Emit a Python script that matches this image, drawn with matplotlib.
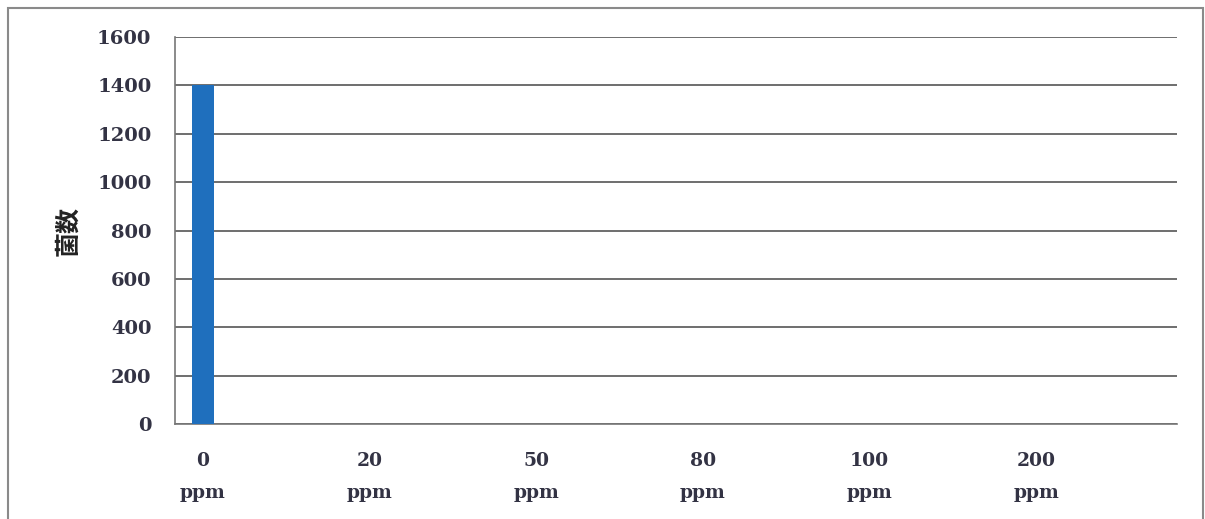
import matplotlib.pyplot as plt
from matplotlib.patches import Rectangle

# bacteria count per concentration
concentrations = ['0\nppm', '20\nppm', '50\nppm', '80\nppm', '100\nppm', '200\nppm']
counts = [1400, 0, 0, 0, 0, 0]
y_ticks = [0, 200, 400, 600, 800, 1000, 1200, 1400, 1600]

fig = plt.figure(figsize=(12.05, 5.19), dpi=100)
ax = fig.add_axes([175 / 1205, 1 - 424 / 519, 1002 / 1205, 387 / 519])

# frame around the whole chart
fig.patches.append(Rectangle((8 / 1205, -0.01), 1195 / 1205, 1 - 8 / 519 + 0.01,
                             transform=fig.transFigure, fill=False,
                             edgecolor='#8a8a8a', linewidth=1.5))

x = range(len(concentrations))
ax.bar(x, counts, width=0.132, color='#1f6fbd', zorder=3)

ax.set_ylim(0, 1600)
ax.set_xlim(-0.168, 5.846)
ax.set_yticks(y_ticks)
ax.yaxis.grid(True, color='#555555', linewidth=1.2, zorder=0)
ax.set_axisbelow(True)

for side in ['top', 'right']:
    ax.spines[side].set_visible(False)
ax.spines['left'].set_color('#777777')
ax.spines['bottom'].set_color('#777777')
ax.spines['left'].set_linewidth(1.2)
ax.spines['bottom'].set_linewidth(1.2)

ax.tick_params(axis='both', length=0)
ax.tick_params(axis='y', pad=17)
ax.tick_params(axis='x', pad=20)
ax.set_xticks(list(x))
ax.set_xticklabels(concentrations, family='DejaVu Serif', fontweight='bold',
                   fontsize=13.5, color='#333344', linespacing=2.0)
ax.set_yticklabels([str(v) for v in y_ticks], family='DejaVu Serif',
                   fontweight='bold', fontsize=14, color='#333344')

ax.set_ylabel('菌数', family=['Noto Sans CJK JP', 'DejaVu Sans'], fontweight='bold',
              fontsize=18, color='#222222', labelpad=12)

fig.savefig('out.png', dpi=100)
